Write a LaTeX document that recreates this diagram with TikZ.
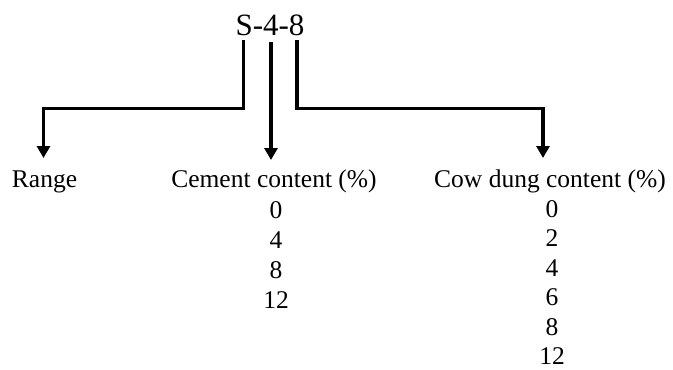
\documentclass[tikz,border=0pt]{standalone}
\usepackage{fontspec}
\setmainfont{Liberation Serif}
\usetikzlibrary{arrows.meta}
\begin{document}
\begin{tikzpicture}[x=1pt,y=-1pt,
  lbl/.style={inner sep=0pt,anchor=base,font=\fontsize{25.5}{30}\selectfont},
  ttl/.style={inner sep=0pt,anchor=base,font=\fontsize{31}{36}\selectfont},
  wire/.style={line width=3.2pt,line join=miter},
  arr/.style={wire,-{Triangle[length=12pt,width=13pt]}}]
\useasboundingbox (0,0) rectangle (673,370);

% code name
\node[ttl] (code) at (270,35) {S-4-8};

% column headings
\node[lbl] (range)  at (44.5,187) {Range};
\node[lbl] (cement) at (274,187) {Cement content (\%)};
\node[lbl] (cow)    at (550,187) {Cow dung content (\%)};

% cement values
\foreach \v [count=\i] in {0,4,8,12}
  \node[lbl] (c\i) at (276,188+30*\i) {\v};
% cow dung values
\foreach \v [count=\i] in {0,2,4,6,8,12}
  \node[lbl] (d\i) at (552,187.5+29.5*\i) {\v};

% branch points under the code letters
\coordinate (sS) at (243.5,40);
\coordinate (s4) at (271,42);
\coordinate (s8) at (297,40);
\coordinate (tR) at (43.5,158);
\coordinate (tC) at (271,160);
\coordinate (tD) at (543,158);

\draw[arr] (sS) -- (243.5,108.5) -| (tR);
\draw[arr] (s4) -- (tC);
\draw[arr] (s8) -- (297,108.5) -| (tD);
\end{tikzpicture}
\end{document}
